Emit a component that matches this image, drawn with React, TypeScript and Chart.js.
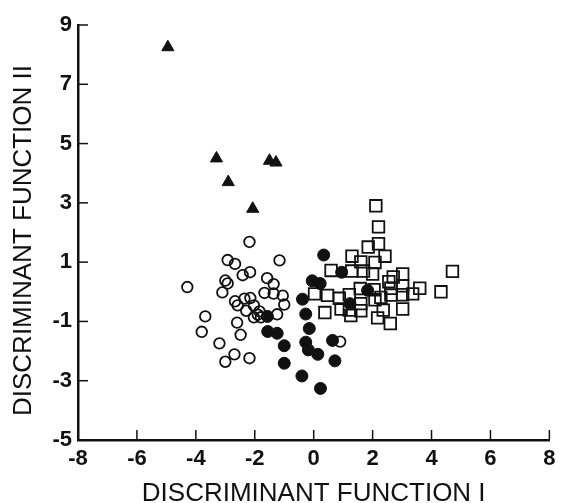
import React, { useEffect, useRef } from "react";
import { Chart, registerables } from "chart.js";

Chart.register(...registerables);

// Filled triangles
const triX = [-4.95, -3.3, -2.9, -2.07, -1.5, -1.28];
const triY = [8.25, 4.5, 3.7, 2.8, 4.42, 4.36];

// Open circles
const openCircX = [-2.18, -2.92, -2.67, -1.16, -2.41, -2.16, -4.29, -3.0, -2.92, -3.1, -1.58, -1.36, -1.67, -1.36, -1.05, -1.0, -2.67, -2.58, -2.35, -2.15, -2.29, -2.03, -1.84, -2.03, -1.79, -1.24, -1.9, -3.68, -2.6, -3.8, -2.48, -3.2, -2.69, -3.0, -2.18, 0.9];
const openCircY = [1.68, 1.07, 0.94, 1.06, 0.56, 0.66, 0.16, 0.38, 0.28, -0.02, 0.46, 0.26, -0.04, -0.06, -0.13, -0.43, -0.32, -0.46, -0.23, -0.21, -0.64, -0.46, -0.66, -0.86, -0.86, -0.76, -0.77, -0.83, -1.04, -1.35, -1.45, -1.74, -2.11, -2.36, -2.24, -1.68];

// Filled circles
const fillCircX = [0.34, 0.95, -0.05, 0.22, 1.83, -0.38, 1.23, -0.27, -0.15, -1.57, -1.56, -1.24, -1.0, -1.0, -0.27, -0.18, 0.14, 0.64, 0.72, -0.4, 0.23];
const fillCircY = [1.24, 0.66, 0.37, 0.28, 0.05, -0.25, -0.4, -0.75, -1.24, -0.83, -1.34, -1.4, -1.82, -2.41, -1.7, -1.96, -2.11, -1.64, -2.33, -2.84, -3.26];

// Open squares
const sqX = [2.11, 2.2, 1.85, 2.2, 1.3, 1.6, 2.08, 2.42, 0.59, 1.29, 1.69, 2.0, 3.02, 2.7, 2.55, 3.02, 2.62, 4.71, 4.32, 3.6, 3.36, 3.02, 0.03, 0.47, 0.87, 1.21, 1.58, 2.05, 2.28, 2.62, 2.08, 1.6, 0.38, 0.93, 1.21, 1.26, 1.6, 2.36, 3.02, 2.17, 2.6];
const sqY = [2.9, 2.19, 1.51, 1.62, 1.2, 1.01, 0.99, 1.2, 0.72, 0.7, 0.7, 0.6, 0.6, 0.5, 0.34, 0.2, 0.12, 0.69, 0.0, 0.12, -0.07, -0.1, -0.07, -0.12, -0.22, -0.1, 0.11, 0.07, -0.19, -0.11, -0.27, -0.4, -0.7, -0.58, -0.62, -0.8, -0.64, -0.62, -0.58, -0.88, -1.07];

const xTicks = [-8, -6, -4, -2, 0, 2, 4, 6, 8];
const yTicks = [-5, -3, -1, 1, 3, 5, 7, 9];

const xTitle = "DISCRIMINANT FUNCTION I";
const yTitle = "DISCRIMINANT FUNCTION II";

const toPts = (xs: number[], ys: number[]) => xs.map((x, i) => ({ x, y: ys[i] }));

const INK = "#111";
const FAMILY = "'Liberation Sans', Arial, sans-serif";

const axisDecor = {
  id: "axisDecor",
  afterDatasetsDraw(chart: any) {
    const { ctx, chartArea, scales } = chart;
    ctx.save();
    ctx.strokeStyle = INK;
    ctx.lineWidth = 1.5;
    const len = 10;
    xTicks.forEach((v) => {
      const px = scales.x.getPixelForValue(v);
      ctx.beginPath();
      ctx.moveTo(px, chartArea.bottom);
      ctx.lineTo(px, chartArea.bottom - len);
      ctx.stroke();
    });
    yTicks.forEach((v) => {
      const py = scales.y.getPixelForValue(v);
      ctx.beginPath();
      ctx.moveTo(chartArea.left, py);
      ctx.lineTo(chartArea.left + len, py);
      ctx.stroke();
    });
    // y-axis title, centred on the y-range used by the original figure
    ctx.translate(23.5, (chartArea.top + chartArea.bottom) / 2 + 8);
    ctx.rotate(-Math.PI / 2);
    ctx.fillStyle = INK;
    ctx.font = `26px ${FAMILY}`;
    ctx.textAlign = "center";
    ctx.textBaseline = "middle";
    ctx.fillText(yTitle, 0, 0);
    ctx.restore();
  },
};

export default function App() {
  const ref = useRef<HTMLCanvasElement>(null);
  useEffect(() => {
    if (!ref.current) return;
    const tickFont = { family: FAMILY, size: 22, weight: "bold" as const };
    const chart = new Chart(ref.current, {
      type: "scatter",
      data: {
        datasets: [
          {
            label: "filled circles",
            data: toPts(fillCircX, fillCircY),
            pointStyle: "circle",
            pointRadius: 6,
            backgroundColor: INK,
            borderColor: INK,
            borderWidth: 1,
          },
          {
            label: "triangles",
            data: toPts(triX, triY),
            pointStyle: "triangle",
            pointRadius: 7,
            backgroundColor: INK,
            borderColor: INK,
            borderWidth: 1,
          },
          {
            label: "open circles",
            data: toPts(openCircX, openCircY),
            pointStyle: "circle",
            pointRadius: 5.3,
            backgroundColor: "rgba(0,0,0,0)",
            borderColor: INK,
            borderWidth: 1.8,
          },
          {
            label: "open squares",
            data: toPts(sqX, sqY),
            pointStyle: "rect",
            pointRadius: 8.2,
            backgroundColor: "rgba(0,0,0,0)",
            borderColor: INK,
            borderWidth: 1.8,
          },
        ],
      },
      options: {
        animation: false,
        responsive: false,
        maintainAspectRatio: false,
        layout: { padding: { left: 0, right: 7, top: 25, bottom: 0 } },
        plugins: { legend: { display: false }, tooltip: { enabled: false } },
        scales: {
          x: {
            type: "linear",
            min: -8,
            max: 8,
            afterBuildTicks: (s: any) => {
              s.ticks = xTicks.map((v) => ({ value: v }));
            },
            afterFit: (s: any) => {
              s.height = 63;
            },
            grid: { display: false, drawTicks: false },
            border: { display: true, width: 2.5, color: INK },
            ticks: { font: tickFont, color: INK, padding: 5.5, maxRotation: 0, autoSkip: false },
            title: {
              display: true,
              text: xTitle,
              color: INK,
              font: { family: FAMILY, size: 26, lineHeight: 1 },
              padding: { top: 0, bottom: -4.3 },
            },
          },
          y: {
            type: "linear",
            min: -5,
            max: 9,
            afterBuildTicks: (s: any) => {
              s.ticks = yTicks.map((v) => ({ value: v }));
            },
            afterFit: (s: any) => {
              s.width = 78;
            },
            grid: { display: false, drawTicks: false },
            border: { display: true, width: 2.5, color: INK },
            ticks: { font: tickFont, color: INK, padding: 6, autoSkip: false },
            title: { display: false },
          },
        },
      },
      plugins: [axisDecor],
    });
    return () => chart.destroy();
  }, []);
  return (
    <div style={{ position: "fixed", left: 0, top: 0, width: 561, height: 503, background: "#fff" }}>
      <canvas ref={ref} width={561} height={503} style={{ width: 561, height: 503, display: "block" }} />
    </div>
  );
}
